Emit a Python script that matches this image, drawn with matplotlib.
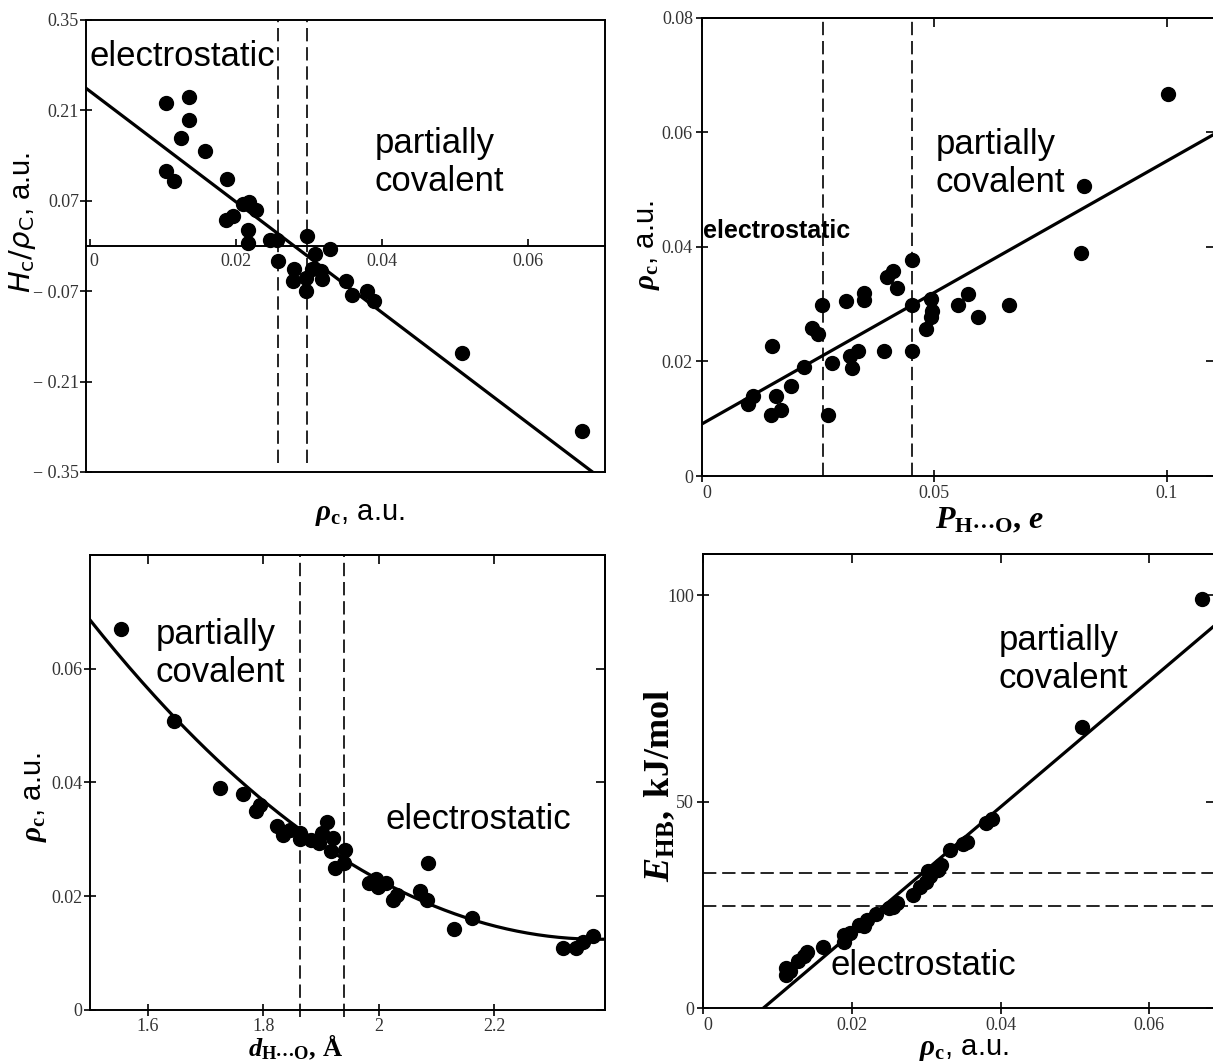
import matplotlib
matplotlib.use('Agg')
import matplotlib.pyplot as plt
import numpy as np

plt.rcParams['mathtext.fontset'] = 'custom'
plt.rcParams['mathtext.rm'] = 'Liberation Serif'
plt.rcParams['mathtext.it'] = 'Liberation Serif:italic'
plt.rcParams['mathtext.bf'] = 'Liberation Serif:bold'
plt.rcParams['mathtext.bfit'] = 'Liberation Serif:italic:bold'
plt.rcParams['font.family'] = ['Liberation Sans', 'DejaVu Sans']

# ---------------- data ----------------
# Panel 1: H_c/rho_c vs rho_c
p1_x = [0.0105, 0.0136, 0.0136, 0.0125, 0.0158, 0.0105, 0.0116, 0.0188, 0.0186, 0.0196,
        0.0210, 0.0218, 0.0227, 0.0217, 0.0217, 0.0247, 0.0256, 0.0257, 0.0297, 0.0329,
        0.0279, 0.0278, 0.0296, 0.0296, 0.0308, 0.0316, 0.0318, 0.0304, 0.0351, 0.0359,
        0.0379, 0.0389, 0.0509, 0.0673]
p1_y = [0.221, 0.231, 0.195, 0.167, 0.147, 0.116, 0.101, 0.104, 0.041, 0.046,
        0.065, 0.068, 0.055, 0.024, 0.004, 0.010, 0.010, -0.023, 0.015, -0.004,
        -0.035, -0.055, -0.049, -0.069, -0.013, -0.038, -0.051, -0.036, -0.054, -0.076,
        -0.070, -0.085, -0.166, -0.286]
p1_fit = [0.240, -8.58]          # intercept, slope
p1_dashed = [0.0258, 0.0297]
p1_xticks = [0, 0.02, 0.04, 0.06]
p1_xticklabels = ['0', '0.02', '0.04', '0.06']
p1_yticks = [0.35, 0.21, 0.07, -0.07, -0.21, -0.35]
p1_yticklabels = ['0.35', '0.21', '0.07', '\u2212 0.07', '\u2212 0.21', '\u2212 0.35']

# Panel 2: rho_c vs P_H...O
p2_x = [0.1004, 0.0822, 0.0815, 0.0451, 0.0399, 0.0411, 0.0420, 0.0348, 0.0348, 0.0311,
        0.0259, 0.0237, 0.0249, 0.0150, 0.0220, 0.0280, 0.0319, 0.0322, 0.0336, 0.0391,
        0.0451, 0.0453, 0.0492, 0.0496, 0.0492, 0.0482, 0.0552, 0.0572, 0.0593, 0.0660,
        0.0100, 0.0109, 0.0160, 0.0149, 0.0171, 0.0192, 0.0271]
p2_y = [0.0667, 0.0507, 0.0389, 0.0378, 0.0347, 0.0358, 0.0328, 0.0319, 0.0307, 0.0306,
        0.0298, 0.0258, 0.0248, 0.0227, 0.0190, 0.0198, 0.0209, 0.0189, 0.0218, 0.0218,
        0.0218, 0.0298, 0.0309, 0.0289, 0.0277, 0.0257, 0.0298, 0.0318, 0.0277, 0.0298,
        0.0125, 0.0140, 0.0139, 0.0107, 0.0116, 0.0157, 0.0107]
p2_fit = [0.0091, 0.459]
p2_dashed = [0.0260, 0.0452]
p2_xticks = [0, 0.05, 0.1]
p2_xticklabels = ['0', '0.05', '0.1']
p2_yticks = [0, 0.02, 0.04, 0.06, 0.08]
p2_yticklabels = ['0', '0.02', '0.04', '0.06', '0.08']

# Panel 3: rho_c vs d_H...O
p3_x = [1.554, 1.645, 1.726, 1.765, 1.788, 1.794, 1.824, 1.834, 1.846, 1.863,
        1.864, 1.883, 1.897, 1.902, 1.911, 1.920, 1.918, 1.924, 1.942, 1.940,
        1.983, 1.995, 1.998, 2.013, 2.024, 2.032, 2.072, 2.084, 2.086, 2.130,
        2.162, 2.319, 2.341, 2.353, 2.371]
p3_y = [0.0670, 0.0508, 0.0390, 0.0379, 0.0349, 0.0361, 0.0324, 0.0308, 0.0317, 0.0311,
        0.0301, 0.0299, 0.0294, 0.0311, 0.0331, 0.0302, 0.0279, 0.0250, 0.0281, 0.0259,
        0.0223, 0.0230, 0.0217, 0.0223, 0.0194, 0.0203, 0.0210, 0.0194, 0.0259, 0.0142,
        0.0161, 0.0109, 0.0109, 0.0120, 0.0130]
p3_fit = [0.0725, -0.3451, 0.4231]   # quadratic coefficients
p3_dashed = [1.863, 1.940]
p3_xticks = [1.6, 1.8, 2.0, 2.2]
p3_xticklabels = ['1.6', '1.8', '2', '2.2']
p3_yticks = [0, 0.02, 0.04, 0.06]
p3_yticklabels = ['0', '0.02', '0.04', '0.06']

# Panel 4: E_HB vs rho_c
p4_x = [0.0671, 0.0509, 0.0389, 0.0380, 0.0355, 0.0349, 0.0332, 0.0320, 0.0316, 0.0302,
        0.0305, 0.0300, 0.0292, 0.0282, 0.0261, 0.0256, 0.0250, 0.0232, 0.0220, 0.0217,
        0.0210, 0.0198, 0.0190, 0.0190, 0.0161, 0.0140, 0.0136, 0.0128, 0.0112, 0.0112,
        0.0117]
p4_y = [99.2, 68.0, 45.7, 44.9, 40.3, 39.8, 38.3, 34.7, 33.5, 33.1,
        31.9, 30.6, 29.4, 27.4, 25.4, 24.6, 24.2, 22.8, 21.4, 19.8,
        20.2, 18.1, 17.7, 16.1, 14.9, 13.5, 12.5, 11.3, 9.7, 8.1,
        8.9]
p4_fit = [-12.4, 1528.0]
p4_dashed = [32.8, 24.8]
p4_xticks = [0, 0.02, 0.04, 0.06]
p4_xticklabels = ['0', '0.02', '0.04', '0.06']
p4_yticks = [0, 50, 100]
p4_yticklabels = ['0', '50', '100']

# --------------- styling ---------------
TICK_FONT = dict(family='Liberation Serif', size=13, color='#333333')
REGION_FS = 25
LABEL_FS = 21
DOT = dict(ls='none', marker='o', ms=10, color='black')
FITLW = 2.3
DASH = dict(color='black', lw=1.2, ls=(0, (8, 3.5)))

fig = plt.figure(figsize=(12.13, 10.63), dpi=100)


def base(ax):
    for s in ax.spines.values():
        s.set_linewidth(1.4)
    ax.set_facecolor('white')


def set_ticklabels(ax, xt, xl, yt, yl):
    ax.set_xticks(xt)
    ax.set_xticklabels(xl, fontdict=TICK_FONT)
    ax.set_yticks(yt)
    ax.set_yticklabels(yl, fontdict=TICK_FONT)


def mirror_ticks(ax, xt, yt):
    top = ax.secondary_xaxis('top')
    top.set_xticks(xt)
    top.tick_params(direction='in', length=6.5, width=1.2, labeltop=False)
    top.spines['top'].set_linewidth(1.4)
    right = ax.secondary_yaxis('right')
    right.set_yticks(yt)
    right.tick_params(direction='in', length=6.5, width=1.2, labelright=False)
    right.spines['right'].set_linewidth(1.4)


rho_label = r'$\mathbfit{\rho}_{\mathbf{c}}$, a.u.'

# ---------- Panel 1 ----------
ax1 = fig.add_axes([0.0709, 0.556, 0.428, 0.4252])
base(ax1)
ax1.set_xlim(-0.0005, 0.0705)
ax1.set_ylim(-0.35, 0.35)
ax1.spines['bottom'].set_position(('data', 0))
ax1.plot([0, 1], [0, 0], transform=ax1.transAxes, color='black', lw=1.4, clip_on=False)
set_ticklabels(ax1, p1_xticks, p1_xticklabels, p1_yticks, p1_yticklabels)
ax1.tick_params(axis='x', direction='in', length=5, width=1.2, pad=5)
ax1.tick_params(axis='y', direction='inout', length=8, width=1.2, pad=1)
ax1.get_xticklabels()[0].set_horizontalalignment('left')
xs = np.linspace(-0.0005, 0.0705, 200)
ax1.plot(xs, p1_fit[0] + p1_fit[1] * xs, color='black', lw=FITLW)
for xv in p1_dashed:
    ax1.axvline(xv, ymin=0.02, ymax=1, **DASH)
ax1.plot(p1_x, p1_y, **DOT)
ax1.text(0.0, 0.294, 'electrostatic', fontsize=REGION_FS, va='center', ha='left')
ax1.text(0.039, 0.158, 'partially', fontsize=REGION_FS, va='center', ha='left')
ax1.text(0.039, 0.0996, 'covalent', fontsize=REGION_FS, va='center', ha='left')
ax1.text(0.528, -0.092, rho_label, transform=ax1.transAxes, fontsize=LABEL_FS,
         ha='center', va='center')
ax1.text(-0.122, 0.553, r'$H_{\mathrm{c}}/\rho_{\mathrm{C}}$, a.u.', transform=ax1.transAxes,
         fontsize=LABEL_FS, ha='center', va='center', rotation=90,
         math_fontfamily='dejavusans')

# ---------- Panel 2 ----------
ax2 = fig.add_axes([0.5787, 0.5522, 0.4233, 0.4309])
base(ax2)
ax2.set_xlim(0, 0.1105)
ax2.set_ylim(0, 0.08)
set_ticklabels(ax2, p2_xticks, p2_xticklabels, p2_yticks, p2_yticklabels)
ax2.tick_params(direction='inout', length=9, width=1.2, pad=2)
ax2.get_xticklabels()[0].set_horizontalalignment('left')
mirror_ticks(ax2, p2_xticks, p2_yticks)
xs = np.linspace(0, 0.1105, 200)
ax2.plot(xs, p2_fit[0] + p2_fit[1] * xs, color='black', lw=FITLW)
for xv in p2_dashed:
    ax2.axvline(xv, **DASH)
ax2.plot(p2_x, p2_y, **DOT)
ax2.text(0.0502, 0.0579, 'partially', fontsize=REGION_FS, va='center', ha='left')
ax2.text(0.0502, 0.0513, 'covalent', fontsize=REGION_FS, va='center', ha='left')
ax2.text(0.0003, 0.0428, 'electrostatic', fontsize=18, fontweight='bold', va='center', ha='left')
ax2.text(0.56, -0.096, r'$\mathbfit{P}_{\mathbf{H{\cdots}O}}\mathbf{,}\ \mathbfit{e}$',
         transform=ax2.transAxes, fontsize=LABEL_FS + 2, ha='center', va='center')
ax2.text(-0.105, 0.504, rho_label, transform=ax2.transAxes, fontsize=LABEL_FS,
         ha='center', va='center', rotation=90)

# ---------- Panel 3 ----------
ax3 = fig.add_axes([0.0742, 0.0499, 0.4246, 0.428])
base(ax3)
ax3.set_xlim(1.5, 2.392)
ax3.set_ylim(0, 0.08)
set_ticklabels(ax3, p3_xticks, p3_xticklabels, p3_yticks, p3_yticklabels)
ax3.tick_params(direction='inout', length=9, width=1.2, pad=1)
mirror_ticks(ax3, p3_xticks, p3_yticks)
xs = np.linspace(1.5, 2.392, 200)
ax3.plot(xs, np.polyval(p3_fit, xs), color='black', lw=FITLW)
for xv in p3_dashed:
    ax3.axvline(xv, ymin=-0.015, ymax=1, clip_on=False, **DASH)
ax3.plot(p3_x, p3_y, **DOT)
ax3.text(1.613, 0.0660, 'partially', fontsize=REGION_FS, va='center', ha='left')
ax3.text(1.613, 0.0593, 'covalent', fontsize=REGION_FS, va='center', ha='left')
ax3.text(2.011, 0.0335, 'electrostatic', fontsize=REGION_FS, va='center', ha='left')
ax3.text(0.40, -0.0815, r'$\mathbfit{d}_{\mathbf{H{\cdots}O}}\mathbf{,\,\AA}$',
         transform=ax3.transAxes, fontsize=19, ha='center', va='center')
ax3.text(-0.107, 0.468, rho_label, transform=ax3.transAxes, fontsize=LABEL_FS,
         ha='center', va='center', rotation=90)

# ---------- Panel 4 ----------
ax4 = fig.add_axes([0.5796, 0.0517, 0.4219, 0.4271])
base(ax4)
ax4.set_xlim(0, 0.0688)
ax4.set_ylim(0, 110)
set_ticklabels(ax4, p4_xticks, p4_xticklabels, p4_yticks, p4_yticklabels)
ax4.tick_params(direction='inout', length=9, width=1.2, pad=2)
ax4.get_xticklabels()[0].set_horizontalalignment('left')
mirror_ticks(ax4, p4_xticks, p4_yticks)
xs = np.linspace(0, 0.0688, 200)
ax4.plot(xs, p4_fit[0] + p4_fit[1] * xs, color='black', lw=FITLW)
for yv in p4_dashed:
    ax4.axhline(yv, **DASH)
ax4.plot(p4_x, p4_y, **DOT)
ax4.text(0.0397, 89.1, 'partially', fontsize=REGION_FS, va='center', ha='left')
ax4.text(0.0397, 79.8, 'covalent', fontsize=REGION_FS, va='center', ha='left')
ax4.text(0.0171, 10.2, 'electrostatic', fontsize=REGION_FS, va='center', ha='left')
ax4.text(0.51, -0.09, rho_label, transform=ax4.transAxes, fontsize=LABEL_FS,
         ha='center', va='center')
ax4.text(-0.084, 0.489, r'$\mathbfit{E}_{\mathbf{HB}}\mathbf{,\ kJ/mol}$',
         transform=ax4.transAxes, fontsize=LABEL_FS + 5, ha='center', va='center',
         rotation=90)

fig.savefig('out.png', dpi=100, facecolor='white')
